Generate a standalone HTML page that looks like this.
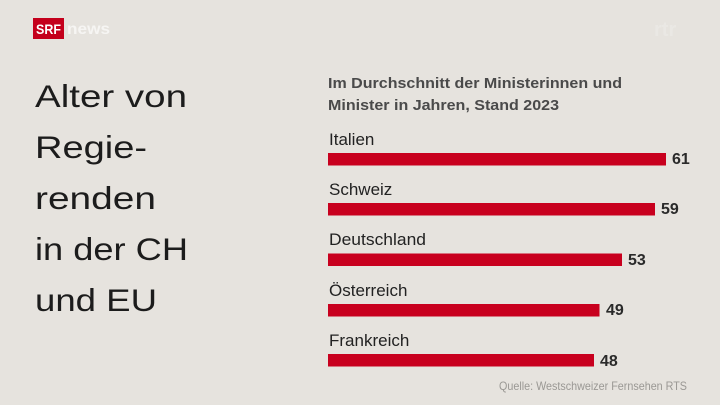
<!DOCTYPE html>
<html>
<head>
<meta charset="utf-8">
<style>
html,body{margin:0;padding:0;background:#e6e3de;}
svg{display:block;}
</style>
</head>
<body>
<svg width="720" height="405" viewBox="0 0 720 405" xmlns="http://www.w3.org/2000/svg">
<rect x="0" y="0" width="720" height="405" fill="#e6e3de"/>
<!-- logo -->
<rect x="33" y="18" width="31" height="21" fill="#c4001c"/>
<text x="36" y="34" font-family="Liberation Sans, sans-serif" font-weight="bold" font-size="14" fill="#ffffff" textLength="25" lengthAdjust="spacingAndGlyphs">SRF</text>
<text x="67" y="34" font-family="Liberation Sans, sans-serif" font-weight="bold" font-size="16" fill="#f6f5f3" textLength="43" lengthAdjust="spacingAndGlyphs">news</text>
<!-- faint watermark -->
<text x="654" y="36" font-family="Liberation Sans, sans-serif" font-weight="bold" font-size="20" fill="#eae8e4">rtr</text>
<!-- title -->
<g font-family="Liberation Sans, sans-serif" font-size="31.5" fill="#1c1c1c">
<text x="35" y="107" textLength="152" lengthAdjust="spacingAndGlyphs">Alter von</text>
<text x="35" y="158" textLength="112" lengthAdjust="spacingAndGlyphs">Regie-</text>
<text x="35" y="209" textLength="121" lengthAdjust="spacingAndGlyphs">renden</text>
<text x="35" y="260" textLength="153" lengthAdjust="spacingAndGlyphs">in der CH</text>
<text x="35" y="311" textLength="122" lengthAdjust="spacingAndGlyphs">und EU</text>
</g>
<!-- subtitle -->
<g font-family="Liberation Sans, sans-serif" font-weight="bold" font-size="15" fill="#4a4a4a">
<text x="328" y="88" textLength="294" lengthAdjust="spacingAndGlyphs">Im Durchschnitt der Ministerinnen und</text>
<text x="328" y="110" textLength="231" lengthAdjust="spacingAndGlyphs">Minister in Jahren, Stand 2023</text>
</g>
<!-- labels -->
<g font-family="Liberation Sans, sans-serif" font-size="17" fill="#222222">
<text x="329" y="145">Italien</text>
<text x="329" y="195">Schweiz</text>
<text x="329" y="245" textLength="97" lengthAdjust="spacingAndGlyphs">Deutschland</text>
<text x="329" y="296">Österreich</text>
<text x="329" y="346">Frankreich</text>
</g>
<!-- bars -->
<g fill="#c8001e">
<rect x="328" y="153" width="338" height="12.5"/>
<rect x="328" y="203" width="327" height="12.5"/>
<rect x="328" y="253.5" width="294" height="12.5"/>
<rect x="328" y="304" width="271.5" height="12.5"/>
<rect x="328" y="354" width="266" height="12.5"/>
</g>
<!-- values -->
<g font-family="Liberation Sans, sans-serif" font-weight="bold" font-size="16" fill="#2a2a2a">
<text x="672" y="164">61</text>
<text x="661" y="214">59</text>
<text x="628" y="265">53</text>
<text x="606" y="315">49</text>
<text x="600" y="366">48</text>
</g>
<!-- source -->
<text x="499" y="390" font-family="Liberation Sans, sans-serif" font-size="12" fill="#9a9894" textLength="188" lengthAdjust="spacingAndGlyphs">Quelle: Westschweizer Fernsehen RTS</text>
</svg>
</body>
</html>
